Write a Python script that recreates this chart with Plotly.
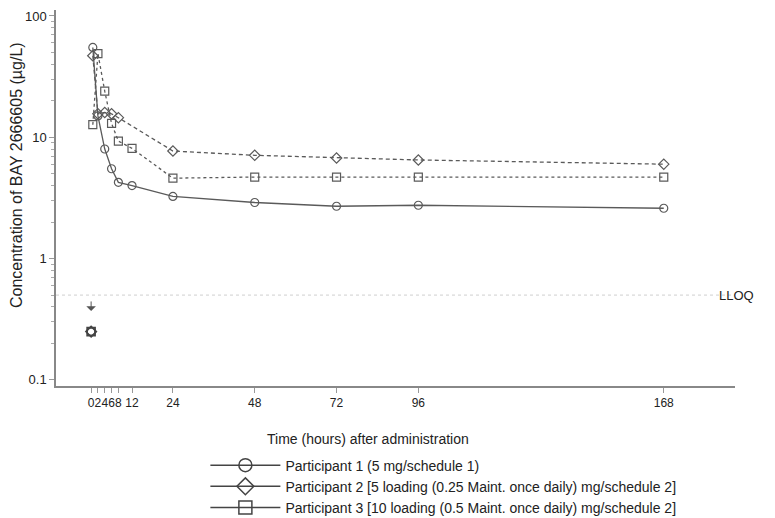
import numpy as np
import plotly.graph_objects as go

# concentration (ug/L) over time (h); pre-dose values are below LLOQ
LLOQ = 0.5
BLQ_TIME = [0, 0, 0]
BLQ_CONC = [0.25, 0.25, 0.25]
BLQ_ARROW = 0.37

time_p1 = [0.5, 2, 4, 6, 8, 12, 24, 48, 72, 96, 168]
conc_p1 = [55, 15, 8.0, 5.5, 4.25, 4.0, 3.25, 2.9, 2.7, 2.75, 2.6]

time_p2 = [0.5, 2, 4, 6, 8, 24, 48, 72, 96, 168]
conc_p2 = [47, 15.6, 16, 15.6, 14.5, 7.7, 7.1, 6.75, 6.5, 6.0]

time_p3 = [0.5, 2, 4, 6, 8, 12, 24, 48, 72, 96, 168]
conc_p3 = [12.7, 49, 24, 13, 9.3, 8.1, 4.6, 4.7, 4.7, 4.7, 4.7]

names = [
    "Participant 1 (5 mg/schedule 1)",
    "Participant 2 [5 loading (0.25 Maint. once daily) mg/schedule 2]",
    "Participant 3 [10 loading (0.5 Maint. once daily) mg/schedule 2]",
]
symbols = ["circle-open", "diamond-open", "square-open"]
dashes = ["solid", "4px,3px", "dot"]

x_ticks = [0, 2, 4, 6, 8, 12, 24, 48, 72, 96, 168]
y_ticks = [0.1, 1, 10, 100]

FONT = "Liberation Sans, Arial, sans-serif"
GREY = "#5a5a5a"

fig = go.Figure()

series = [(time_p1, conc_p1), (time_p2, conc_p2), (time_p3, conc_p3)]
for i, (t, c) in enumerate(series):
    fig.add_trace(go.Scatter(
        x=t, y=c, mode="lines+markers", showlegend=False,
        line=dict(color=GREY, width=1.3, dash=dashes[i]),
        marker=dict(symbol=symbols[i], size=8, color=GREY, line=dict(width=1.2)),
    ))
    # below-LLOQ pre-dose sample
    fig.add_trace(go.Scatter(
        x=[BLQ_TIME[i]], y=[BLQ_CONC[i]], mode="markers", showlegend=False,
        marker=dict(symbol=symbols[i], size=8, color="#444", line=dict(width=1.6)),
    ))

# BLQ indicator arrow
fig.add_annotation(x=0, y=np.log10(BLQ_ARROW), xref="x", yref="y",
                   showarrow=True, ax=0, ay=-11, arrowhead=1, arrowsize=1.6,
                   arrowwidth=1, arrowcolor="#555", text="")

# legend entries (solid line, large symbol)
for i in range(3):
    fig.add_trace(go.Scatter(
        x=[None], y=[None], mode="lines+markers", name=names[i],
        line=dict(color="#444", width=1.5),
        marker=dict(symbol=symbols[i], size=13, color="#444", line=dict(width=1.5)),
    ))

fig.add_shape(type="line", xref="paper", x0=0, x1=1, yref="y",
              y0=LLOQ, y1=LLOQ,
              line=dict(color="#cfcfcf", width=1, dash="dot"))
fig.add_annotation(text="LLOQ", xref="paper", x=1, xanchor="left", xshift=-18,
                   yref="y", y=np.log10(LLOQ), showarrow=False,
                   font=dict(size=13, color="#222"))

fig.add_annotation(text="Time (hours) after administration", xref="paper", x=0.459,
                   yref="paper", y=-0.142, yanchor="middle", showarrow=False,
                   font=dict(size=14, color="#222"))
fig.add_annotation(text="Concentration of BAY 2666605 (µg/L)", textangle=-90,
                   xref="paper", x=-0.058, xanchor="center",
                   yref="paper", y=0.56, showarrow=False,
                   font=dict(size=16, color="#222"))

minor_vals = [m * 10.0 ** e for e in range(-1, 2) for m in range(2, 10)]

fig.update_layout(
    width=775, height=518,
    margin=dict(l=48, r=48, t=2, b=135),
    plot_bgcolor="white", paper_bgcolor="white",
    font=dict(family=FONT, size=12, color="#222"),
    xaxis=dict(
        range=[-10.3, 188.9], tickvals=x_ticks, ticktext=[str(v) for v in x_ticks],
        tickangle=0, ticks="outside", ticklen=5, tickcolor="#999",
        showgrid=False, zeroline=False,
        showline=True, linecolor="#888", linewidth=1.5, tickfont=dict(size=12),
    ),
    yaxis=dict(
        type="log", range=[np.log10(0.089), np.log10(112)],
        tickvals=y_ticks, ticktext=["0.1", "1", "10", "100"],
        ticks="outside", ticklen=5, tickcolor="#999", showgrid=False, zeroline=False,
        showline=True, linecolor="#888", linewidth=1.5, tickfont=dict(size=13),
        minor=dict(tickvals=minor_vals, ticks="outside", ticklen=3, tickcolor="#aaa",
                   showgrid=False),
    ),
    legend=dict(x=0.22, xanchor="left", y=-0.169, yanchor="top",
                font=dict(size=14, color="#222"), tracegroupgap=0,
                itemwidth=70),
)

fig.write_html("out.html")
